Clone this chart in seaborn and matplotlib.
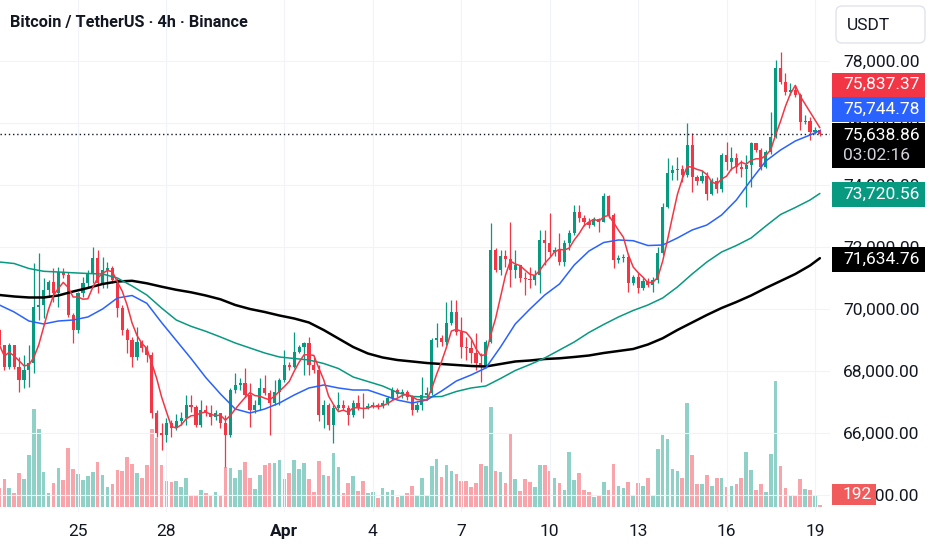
import numpy as np
import pandas as pd
import matplotlib
matplotlib.use("Agg")
import matplotlib.pyplot as plt
import matplotlib.ticker as mtick
from matplotlib.patches import Rectangle, FancyBboxPatch
from matplotlib.transforms import IdentityTransform
import seaborn as sns

sns.set_theme(style="white")
plt.rcParams['font.family'] = ['Roboto', 'DejaVu Sans']

UP, DOWN, INK, GRID = "#089981", "#F23645", "#131722", "#F0F3FA"

# ── 4h candles, Mar 22 08:00 -> Apr 19 04:00 (BTC/USDT) ───────────
first_open = 69320
close = [
    68837, 68128, 68837, 68128, 67709, 68031, 68256, 70061, 70126, 70609,
    70867, 70513, 71189, 71093, 69803, 69320, 70513, 70835, 71157, 71641,
    70835, 71254, 71318, 70932, 70029, 69320, 68998, 68450, 68933, 68740,
    68514, 66645, 66001, 65936, 66323, 66162, 66387, 66484, 66903, 66838,
    66259, 66742, 66645, 66516, 66645, 66323, 65936, 67386, 67547, 67612,
    67225, 66742, 66903, 67451, 67290, 66967, 67322, 67709, 68192, 68128,
    68611, 68772, 68901, 68192, 68031, 66581, 66903, 66259, 66806, 66903,
    66806, 66581, 66967, 66806, 66790, 66871, 66903, 66871, 66967, 67129,
    67386, 67257, 67322, 67161, 66742, 66903, 67225, 67290, 68998, 69062,
    68933, 69546, 69900, 69256, 68772, 68740, 68579, 68256, 68128, 68933,
    71899, 71254, 71705, 71609, 71254, 71415, 70996, 70964, 70932, 71093,
    72221, 72124, 71834, 71899, 71512, 72124, 72446, 73123, 72930, 72801,
    72704, 72898, 72801, 73639, 73027, 71576, 71641, 71673, 70835, 71028,
    70674, 70899, 70770, 70932, 71802, 73284, 74380, 74477, 74509, 74316,
    75283, 74251, 74123, 74284, 73703, 74123, 73865, 74960, 74735, 74864,
    74574, 74509, 74638, 75347, 75122, 74574, 75057, 75541, 77764, 77313,
    76991, 77055, 76894, 76024, 76056, 75702, 75766, 75638.86,
]
high = [
    69385, 68837, 68901, 68837, 68450, 68514, 68837, 71480, 71802, 70996,
    70932, 71318, 71351, 71318, 71189, 69868, 70545, 71028, 71254, 71995,
    71899, 71673, 71512, 71383, 70996, 70126, 69385, 69095, 69417, 68998,
    68837, 68611, 66742, 66323, 66484, 66420, 66613, 66677, 67225, 67225,
    66903, 67064, 66903, 66903, 66742, 66645, 66581, 67451, 67934, 67773,
    68095, 67612, 67064, 67773, 67870, 67386, 67709, 67773, 68675, 68289,
    69256, 68837, 68933, 69095, 68450, 68192, 67064, 66967, 66903, 67322,
    67064, 66903, 67064, 67225, 67290, 66967, 66999, 66967, 67064, 67193,
    67483, 67451, 67419, 67386, 67225, 66999, 67805, 67483, 69062, 69546,
    69159, 70223, 70287, 70287, 69739, 69095, 68998, 69223, 68579, 68998,
    72769, 71963, 71899, 71899, 72801, 71899, 71415, 71189, 71351, 71254,
    72543, 72543, 73091, 71995, 72446, 72221, 72543, 73349, 73349, 73027,
    72930, 72962, 72930, 73736, 73671, 73091, 71737, 71770, 71770, 71093,
    71157, 70996, 70996, 71028, 71995, 73413, 74864, 74638, 74896, 74638,
    75992, 75670, 74316, 74477, 74413, 74219, 74251, 75025, 75380, 75218,
    75025, 74799, 74960, 75380, 75347, 75186, 75122, 76346, 78022, 78280,
    77603, 77281, 77216, 76959, 76250, 76185, 75863, 75800,
]
low = [
    68740, 68031, 68063, 68063, 67322, 67451, 67483, 67934, 69642, 69707,
    70384, 70223, 70061, 70996, 69739, 68901, 69223, 70384, 70706, 70835,
    70513, 70674, 70674, 70835, 69739, 69159, 68579, 68128, 68353, 68611,
    68289, 66484, 65872, 65453, 65710, 65872, 66097, 66259, 66259, 66677,
    66194, 66194, 66548, 66259, 66420, 66162, 64905, 65872, 67290, 67386,
    67161, 66194, 66645, 66742, 67225, 65936, 66903, 66903, 67644, 68031,
    68095, 68579, 67870, 67870, 67934, 66387, 66162, 66097, 65678, 66742,
    66742, 66259, 66516, 66742, 66484, 66774, 66806, 66774, 66806, 66903,
    67064, 67161, 67129, 67064, 66581, 66677, 66742, 67064, 67225, 68772,
    68804, 68837, 69481, 69159, 68418, 68353, 68256, 68031, 67644, 68095,
    68901, 71189, 71093, 71351, 70706, 70996, 70867, 70448, 70674, 70770,
    70513, 71415, 71705, 71705, 71415, 71383, 71899, 72382, 72801, 72672,
    72608, 72672, 72479, 72801, 72930, 71318, 71480, 71512, 70545, 70770,
    70513, 70609, 70706, 70545, 70835, 71737, 73252, 74155, 74155, 74090,
    74251, 73768, 73993, 74058, 73510, 73671, 73736, 73768, 74477, 74477,
    74380, 74251, 73284, 73929, 75057, 74477, 74541, 74993, 75508, 77249,
    76894, 76894, 76830, 75766, 75960, 75444, 75637, 75573,
]
volume = [
    1520, 2240, 1520, 1120, 2720, 2240, 4160, 7840, 6240, 2800,
    1120, 1920, 3120, 2160, 4720, 3040, 2640, 2160, 2480, 2800,
    3600, 2560, 1600, 1840, 2960, 2880, 4000, 3440, 2720, 2320,
    3360, 6240, 5520, 3360, 2080, 2000, 2080, 1600, 2320, 960,
    960, 1360, 1120, 960, 1200, 880, 3200, 3120, 2320, 2960,
    3600, 2320, 1440, 2560, 3360, 3520, 3520, 3760, 2240, 2720,
    3760, 3040, 3520, 2240, 1200, 3680, 2560, 2480, 4320, 3200,
    1120, 1920, 2480, 1280, 2080, 1120, 1200, 720, 1520, 1200,
    1360, 800, 960, 1120, 1680, 880, 2320, 880, 3280, 3840,
    2400, 3360, 2880, 2640, 2080, 2080, 1600, 1920, 3440, 3280,
    8000, 2880, 2800, 1920, 5840, 2240, 1280, 2240, 2000, 1600,
    3360, 3360, 2880, 2320, 1920, 1360, 4400, 2160, 2720, 1360,
    1200, 800, 960, 2000, 1360, 3440, 1680, 1520, 2000, 880,
    1920, 1680, 2320, 880, 4640, 5760, 5440, 3040, 2880, 2320,
    8320, 4160, 1840, 1840, 2560, 1680, 2320, 2320, 1600, 1680,
    1840, 2320, 4400, 2960, 1360, 1840, 1200, 4240, 10080, 3280,
    1520, 960, 960, 2240, 1440, 1360, 880, 192,
]

# moving averages read every 3rd candle (12h) plus the last candle
ma_blue = [
    70126, 69900, 69610, 69514, 69610, 69642, 69739, 69997, 70351, 70432,
    70181, 69562, 68982, 68402, 67789, 67258, 66774, 66645, 66774, 66967,
    67225, 67451, 67547, 67451, 67386, 67386, 67225, 67064, 66967, 67064,
    67354, 67676, 67870, 68095, 68772, 69514, 69997, 70448, 70803, 71415,
    71866, 72140, 72221, 72198, 72043, 72059, 72285, 72543, 72704, 73027,
    73510, 74155, 74767, 75122, 75412, 75605, 75744.78,
]
ma_green = [
    71512, 71463, 71302, 71212, 71189, 71164, 71141, 71125, 70996, 70738,
    70448, 70029, 69642, 69439, 69278, 69095, 68901, 68740, 68579, 68450,
    68401, 68353, 68240, 68079, 67805, 67660, 67515, 67306, 67177, 67161,
    67177, 67338, 67451, 67515, 67757, 68015, 68208, 68418, 68675, 68933,
    69240, 69498, 69739, 69949, 70126, 70351, 70706, 71125, 71512, 71834,
    72043, 72285, 72672, 73043, 73268, 73510, 73720.56,
]
ma_black = [
    70448, 70400, 70368, 70368, 70432, 70561, 70674, 70803, 70883, 70906,
    70825, 70716, 70616, 70535, 70432, 70309, 70126, 69997, 69900, 69787,
    69691, 69562, 69320, 69046, 68772, 68563, 68434, 68353, 68305, 68256,
    68224, 68192, 68160, 68144, 68224, 68305, 68337, 68385, 68408, 68450,
    68498, 68579, 68643, 68708, 68853, 69053, 69320, 69562, 69804, 70029,
    70222, 70432, 70674, 70899, 71125, 71399, 71634.76,
]
countdown = "03:02:16"

times = pd.date_range("2026-03-22 08:00", periods=len(close), freq="4h")
df = pd.DataFrame({"close": close, "high": high, "low": low, "volume": volume})
df["open"] = df["close"].shift(1).fillna(first_open)
df["x"] = np.arange(len(df))
df["sma5"] = df["close"].rolling(5, min_periods=1).mean()
up = (df["close"] >= df["open"]).values
ma_at = list(range(0, len(close), 3)) + [len(close) - 1]

W, H = 932, 550
fig = plt.figure(figsize=(W / 100, H / 100), dpi=100)
fig.patch.set_facecolor("white")
ax = fig.add_axes([0, 38 / H, 830 / W, 512 / H])
ax_v = ax.twinx()
ax.set_zorder(ax_v.get_zorder() + 1)
ax.patch.set_visible(False)

# ── volume pane ────────────────────────────────────────────
ax_v.bar(df["x"], df["volume"], width=0.74, color=np.where(up, UP, DOWN),
         alpha=0.45, linewidth=0)
ax_v.set_ylim(-400, 40560)
ax_v.set_yticks([])

# ── candles ────────────────────────────────────────────────
cols = np.where(up, UP, DOWN)
ax.vlines(df["x"], df["low"], df["high"], colors=cols, linewidth=0.9, zorder=2)
body_lo = np.minimum(df["open"], df["close"])
body_h = np.maximum((df["close"] - df["open"]).abs(), 30)
ax.bar(df["x"], body_h, bottom=body_lo, width=0.64, color=cols, linewidth=0, zorder=2.5)

# ── moving averages ────────────────────────────────────────
sns.lineplot(x=ma_at, y=ma_black, ax=ax, color="#000000", linewidth=1.8, zorder=3)
sns.lineplot(x=ma_at, y=ma_green, ax=ax, color=UP, linewidth=1.1, zorder=3.1)
sns.lineplot(x=ma_at, y=ma_blue, ax=ax, color="#2962FF", linewidth=1.1, zorder=3.2)
sns.lineplot(x=df["x"].values, y=df["sma5"].values, ax=ax, color=DOWN, linewidth=1.1, zorder=3.3)
ax.axhline(df["close"].iloc[-1], color=INK, lw=1.0, ls=(0, (1, 2)), zorder=2.8)

ax.set_xlim(0.12, 169.06)
ax.set_ylim(63454, 79956)
ax.set_xlabel("")
ax.set_ylabel("")
for a in (ax, ax_v):
    for s in a.spines.values():
        s.set_visible(False)

# ── axes / grid ────────────────────────────────────────────
ax.set_yticks(np.arange(64000, 78001, 2000))
ax.yaxis.set_major_formatter(mtick.StrMethodFormatter("{x:,.2f}"))
ax.yaxis.tick_right()
ax.tick_params(axis="y", length=0, pad=9.4, labelsize=12.5, labelcolor=INK)

tick_dates = pd.to_datetime(["2026-03-25", "2026-03-28", "2026-04-01", "2026-04-04",
                             "2026-04-07", "2026-04-10", "2026-04-13", "2026-04-16",
                             "2026-04-19"])
ax.set_xticks([times.get_loc(t) for t in tick_dates])
ax.set_xticklabels(["Apr" if t.day == 1 else str(t.day) for t in tick_dates])
ax.tick_params(axis="x", length=0, pad=8.4, labelsize=12.5, labelcolor=INK)
for lab in ax.get_xticklabels():
    if lab.get_text() == "Apr":
        lab.set_fontweight("bold")
ax.grid(True, color=GRID, linewidth=0.8)
ax.set_axisbelow(True)


# ── price scale tags (pixel layout) ────────────────────────
def px_box(x0, y0, x1, y1, color):
    fig.add_artist(Rectangle((x0, H - y1), x1 - x0, y1 - y0, transform=IdentityTransform(),
                             facecolor=color, edgecolor="none", zorder=5))


def px_text(x, y, s, color, **kw):
    fig.text(x, H - y, s, color=color, transform=IdentityTransform(),
             va="center", ha="left", zorder=6, **kw)


fmt = "{:,.2f}".format
px_box(832, 72.7, 925, 96.7, DOWN)
px_text(843, 84.7, fmt(df["sma5"].iloc[-1]), "white", fontsize=12.5)
px_box(832, 97.3, 925, 121.7, "#2962FF")
px_text(843, 109.5, fmt(ma_blue[-1]), "white", fontsize=12.5)
px_box(832, 122.7, 925, 168.3, "#000000")
px_text(843, 135, fmt(df["close"].iloc[-1]), "white", fontsize=12.5)
px_text(843, 155, countdown, "#D1D4DC", fontsize=12.5)
px_box(832, 182.3, 925, 206.7, UP)
px_text(843, 194.5, fmt(ma_green[-1]), "white", fontsize=12.5)
px_box(832, 247.3, 925, 271.7, "#000000")
px_text(843, 259.5, fmt(ma_black[-1]), "white", fontsize=12.5)
px_box(832, 484, 876, 505, "#F15B5B")
px_text(843, 494.5, f"{volume[-1]:,}", "white", fontsize=12.5)

fig.add_artist(FancyBboxPatch((836, H - 43), 89, 37, boxstyle="round,pad=0,rounding_size=6",
                              transform=IdentityTransform(), facecolor="white",
                              edgecolor="#E0E3EB", linewidth=1, zorder=5))
px_text(847, 25, "USDT", INK, fontsize=12.5)

px_text(10, 22, "Bitcoin / TetherUS · 4h · Binance", INK, fontsize=11.7, fontweight="bold")

fig.savefig("out.png", dpi=100)
